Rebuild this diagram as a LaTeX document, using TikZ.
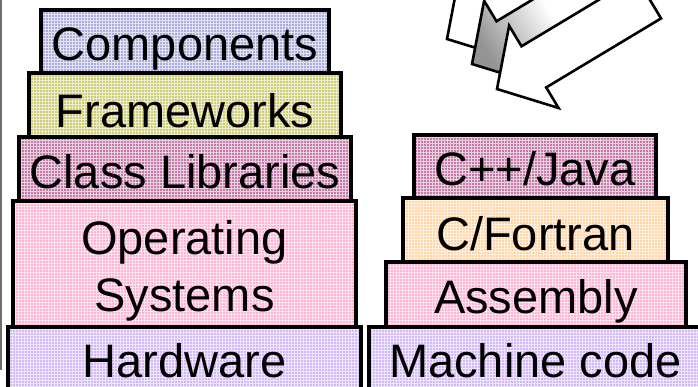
\documentclass[tikz,border=0pt]{standalone}
\usepackage{fontspec}
\setmainfont{Liberation Sans}
\usetikzlibrary{patterns}

\definecolor{compcol}{RGB}{172,172,218}
\definecolor{framecol}{RGB}{204,204,118}
\definecolor{libcol}{RGB}{196,122,166}
\definecolor{oscol}{RGB}{255,178,212}
\definecolor{hwcol}{RGB}{210,184,248}
\definecolor{fortcol}{RGB}{255,212,166}
\definecolor{edgegray}{RGB}{110,110,110}

\begin{document}
\begin{tikzpicture}[x=1pt,y=-1pt,
  layer/.style={rectangle, inner sep=0pt, outer sep=0pt,
                preaction={fill=#1}, pattern=grid, pattern color=#1!35!white},
  frameline/.style={draw=black, line width=3.4pt},
  word/.style={anchor=base, inner sep=0pt, outer sep=0pt, font=\fontsize{47}{53}\selectfont},
  arrowline/.style={draw=black, line width=2.6pt, line join=miter}]

\useasboundingbox (0,0) rectangle (698,386);
\clip (0,0) rectangle (698,386);

% thin grey rule on the left edge
\draw[edgegray, line width=2pt] (1,0) -- (1,370);

% left stack: software layers
\node[layer=hwcol,    minimum width=353pt, minimum height=68pt]  (hard)     at (184.5,361) {};
\node[layer=oscol,    minimum width=343pt, minimum height=126pt] (opsys)    at (184.5,264) {};
\node[layer=libcol,   minimum width=332pt, minimum height=64pt]  (classlib) at (185,169)   {};
\node[layer=framecol, minimum width=312pt, minimum height=64pt]  (frame)    at (185,105)   {};
\node[layer=compcol,  minimum width=288pt, minimum height=63pt]  (comp)     at (185,41.5)  {};

% right stack: language levels
\node[layer=hwcol,   minimum width=333pt, minimum height=68pt] (mach)  at (535.5,361)   {};
\node[layer=oscol,   minimum width=300pt, minimum height=65pt] (asm)   at (536,294.5)   {};
\node[layer=fortcol, minimum width=265pt, minimum height=64pt] (cfort) at (535.5,230)   {};
\node[layer=libcol,  minimum width=242pt, minimum height=63pt] (cpp)   at (535,166.5)   {};

% outlines of every layer
\foreach \n in {hard,opsys,classlib,frame,comp,mach,asm,cfort,cpp}
  \draw[frameline] (\n.north west) rectangle (\n.south east);

\node[word] (tcomp)  at (185,60)    {Components};
\node[word] (tframe) at (185,127)   {Frameworks};
\node[word] (tlib)   at (185,188)   {Class Libraries};
\node[word] (tos1)   at (184.5,254) {Operating};
\node[word] (tos2)   at (184.5,311) {Systems};
\node[word] (thw)    at (184.5,377) {Hardware};

\node[word] (tmach)  at (535.5,377) {Machine code};
\node[word] (tasm)   at (536,313)   {Assembly};
\node[word] (tfort)  at (535.5,250) {C/Fortran};
\node[word] (tcpp)   at (535,185)   {C++/Java};

% three overlapping block arrows pointing down-left
\def\blockarrowpath{(0,0) -- (43,-48) -- (43,-24) -- (177,-24) -- (177,24) -- (43,24) -- (43,48) -- cycle}
\begin{scope}[shift={(447,39)}, x={(0.857pt,0.515pt)}, y={(0.515pt,-0.857pt)}]
  \path[arrowline, fill=white] \blockarrowpath;
\end{scope}
\begin{scope}[shift={(472,64)}, x={(0.857pt,0.515pt)}, y={(0.515pt,-0.857pt)}]
  \path[arrowline, bottom color=black!42, top color=white, middle color=white, shading angle=-59] \blockarrowpath;
\end{scope}
\begin{scope}[shift={(497,89)}, x={(0.857pt,0.515pt)}, y={(0.515pt,-0.857pt)}]
  \path[arrowline, fill=white] \blockarrowpath;
\end{scope}
\end{tikzpicture}
\end{document}
